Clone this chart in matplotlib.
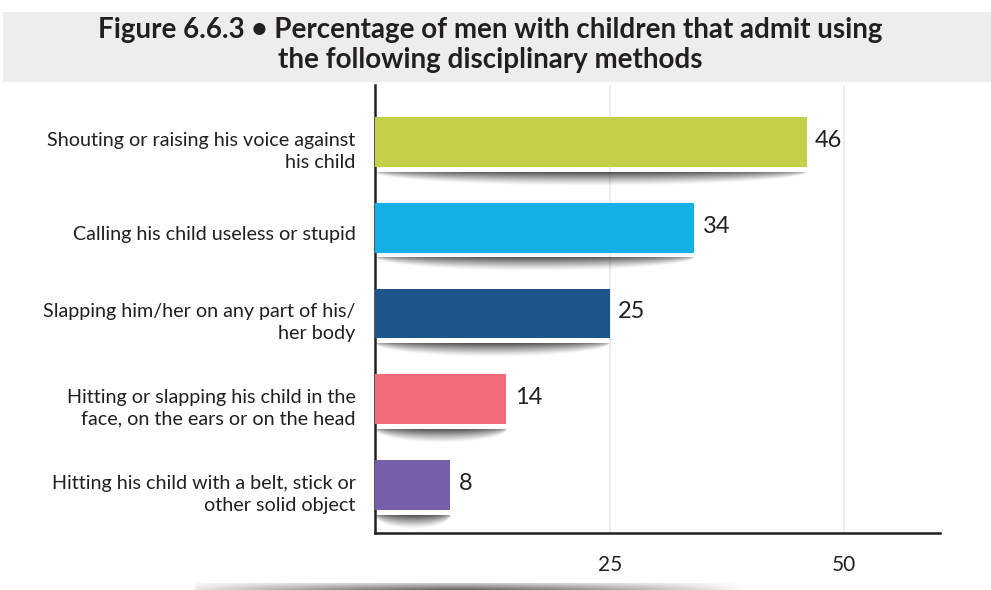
import numpy as np
import matplotlib
matplotlib.use("Agg")
import matplotlib.pyplot as plt
from matplotlib.patches import Rectangle

plt.rcParams['font.family'] = ['Lato', 'DejaVu Sans']

# data
methods = [
    "Shouting or raising his voice against\nhis child",
    "Calling his child useless or stupid",
    "Slapping him/her on any part of his/\nher body",
    "Hitting or slapping his child in the\nface, on the ears or on the head",
    "Hitting his child with a belt, stick or\nother solid object",
]
percent = [46, 34, 25, 14, 8]
bar_colors = ["#c4cf4c", "#14b0e6", "#1e548a", "#f26b7a", "#755fa9"]
xticks = [25, 50]
title = ("Figure 6.6.3 \u2022 Percentage of men with children that admit using\n"
         "the following disciplinary methods")

text_col = "#231f20"
bar_h = 0.58


def bar_shadow(ax, x1, y_top, depth):
    # soft half-ellipse shadow hanging under a bar
    u = np.linspace(-1, 1, 300)
    v = np.linspace(0, 1, 40)
    U, V = np.meshgrid(u, v)
    edge = np.sqrt(np.clip(1 - U ** 2, 0, None))
    a = np.clip(1 - V / np.maximum(edge, 1e-6), 0, 1) ** 1.2 * edge ** 0.5
    rgba = np.zeros((len(v), len(u), 4))
    rgba[..., :3] = 0.2
    rgba[..., 3] = 0.85 * a
    ax.imshow(rgba, extent=(0, x1, y_top + depth, y_top), aspect='auto',
              interpolation='bilinear', zorder=1)


fig = plt.figure(figsize=(9.91, 5.90), dpi=100)

# grey title band
fig.patches.append(Rectangle((0.003, 1 - 82 / 590), 0.997, 70 / 590,
                             transform=fig.transFigure, facecolor="#ededed",
                             edgecolor="none", zorder=0))
fig.text(0.4945, 1 - 45 / 590, title, ha='center', va='center', fontsize=20,
         fontweight='bold', color=text_col, linespacing=1.2)

ax = fig.add_axes([375 / 991, 57 / 590, 565 / 991, 448 / 590])
y = np.arange(len(methods))

ax.barh(y, percent, height=bar_h, color=bar_colors, zorder=3)
for i, p in enumerate(percent):
    bar_shadow(ax, p, i + bar_h / 2 + 0.06, 0.16)
    ax.text(p + 0.9, i - 0.02, str(p), va='center', ha='left',
            fontsize=17, color=text_col)

for t in xticks:
    ax.axvline(t, color="#ebebf0", lw=1.5, zorder=0)

ax.set_xlim(0, 60.2)
ax.set_ylim(4.56, -0.665)
ax.set_xticks(xticks)
ax.set_xticklabels([str(t) for t in xticks])
ax.set_yticks(y + 0.06)
ax.set_yticklabels(methods, fontsize=14.2, color=text_col, linespacing=1.35)
ax.tick_params(axis='x', length=0, pad=16, labelsize=15, labelcolor=text_col)
ax.tick_params(axis='y', length=0, pad=14)

for s in ['top', 'right']:
    ax.spines[s].set_visible(False)
for s in ['left', 'bottom']:
    ax.spines[s].set_color(text_col)
    ax.spines[s].set_linewidth(1.8)

# faint shadow strip along the bottom edge
sh = fig.add_axes([195 / 991, 0, 580 / 991, 7 / 590])
u = np.linspace(-1, 1, 400)
v = np.linspace(0, 1, 10)
U, V = np.meshgrid(u, v)
alpha = np.clip(1 - np.abs(U + 0.1) ** 1.5, 0, 1) * (0.35 + 0.65 * V)
strip = np.zeros((len(v), len(u), 4))
strip[..., :3] = 0.3
strip[..., 3] = 0.85 * alpha
sh.imshow(strip, aspect='auto', extent=(0, 1, 0, 1), origin='upper')
sh.axis('off')

fig.savefig("out.png", dpi=100)
